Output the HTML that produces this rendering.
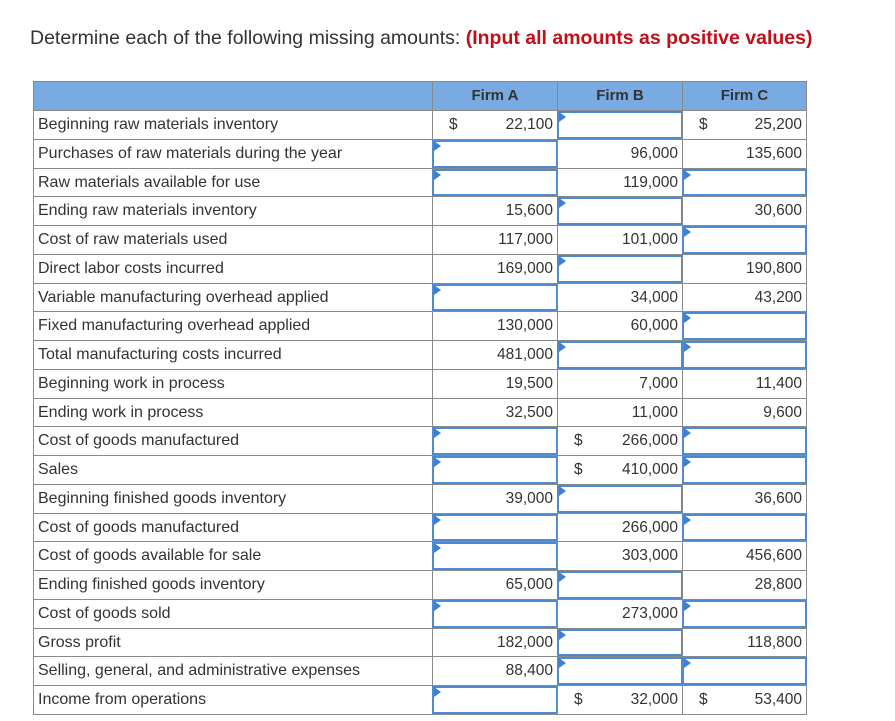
<!DOCTYPE html>
<html><head><meta charset="utf-8"><style>
body{margin:0;width:895px;height:721px;background:#fff;font-family:"Liberation Sans",Arial,sans-serif;color:#333;position:relative;overflow:hidden}
#title{position:absolute;left:30px;top:27px;font-size:19.5px;color:#333;white-space:nowrap}
#title b{color:#c0101a}
.c{position:absolute;box-sizing:border-box;border:1px solid #8a8a8a;font-size:15.5px;line-height:28px;white-space:nowrap}
.lab{padding-left:4px;font-size:16px}
.num{text-align:right;padding-right:4px}
.dol{position:absolute;left:16px;top:0}
.hd{background:#79abe2;font-weight:bold;text-align:center;font-size:15px;line-height:28px}
.inp{position:absolute;box-sizing:border-box;border:2px solid #4d8ad0;background:#fff}
.flag{position:absolute;left:0;top:0;width:0;height:0;border-top:5px solid transparent;border-bottom:5px solid transparent;border-left:7px solid #3f7fcf;top:-1px}
</style></head><body>
<div id="title">Determine each of the following missing amounts: <b>(Input all amounts as positive values)</b></div>
<div id="tbl"></div>
<script>
const labels=["Beginning raw materials inventory","Purchases of raw materials during the year","Raw materials available for use","Ending raw materials inventory","Cost of raw materials used","Direct labor costs incurred","Variable manufacturing overhead applied","Fixed manufacturing overhead applied","Total manufacturing costs incurred","Beginning work in process","Ending work in process","Cost of goods manufactured","Sales","Beginning finished goods inventory","Cost of goods manufactured","Cost of goods available for sale","Ending finished goods inventory","Cost of goods sold","Gross profit","Selling, general, and administrative expenses","Income from operations"];
// "i" = input box, "$x" = value with dollar sign
const firmA=["$22,100","i","i","15,600","117,000","169,000","i","130,000","481,000","19,500","32,500","i","i","39,000","i","i","65,000","i","182,000","88,400","i"];
const firmB=["i","96,000","119,000","i","101,000","i","34,000","60,000","i","7,000","11,000","$266,000","$410,000","i","266,000","303,000","i","273,000","i","i","$32,000"];
const firmC=["$25,200","135,600","i","30,600","i","190,800","43,200","i","i","11,400","9,600","i","i","36,600","i","456,600","28,800","i","118,800","i","$53,400"];
const headers=["Firm A","Firm B","Firm C"];
const colX=[33,432,557,682,806];
const T=document.getElementById('tbl');
const top0=110,rh=28.75;
function cell(x,y,w,h,cls){const d=document.createElement('div');d.className='c '+cls;d.style.left=x+'px';d.style.top=y+'px';d.style.width=(w+1)+'px';d.style.height=(h+1)+'px';T.appendChild(d);return d;}
let h=cell(colX[0],81,colX[1]-colX[0],29,'hd');


headers.forEach((t,j)=>{const d=cell(colX[j+1],81,colX[j+2]-colX[j+1],29,'hd');d.textContent=t;

});
const cols=[firmA,firmB,firmC];
labels.forEach((l,i)=>{
 const y=Math.round(top0+i*rh),y2=Math.round(top0+(i+1)*rh),hh=y2-y;
 const d=cell(colX[0],y,colX[1]-colX[0],hh,'lab');d.textContent=l;
 
 
 cols.forEach((arr,j)=>{
  const v=arr[i];const x=colX[j+1],w=colX[j+2]-colX[j+1];
  const c=cell(x,y,w,hh,'num');
  
  
  if(v==='i'){
   const b=document.createElement('div');b.className='inp';b.style.left=x+'px';b.style.top=(y+1)+'px';b.style.width=(w+1)+'px';b.style.height=(hh-1)+'px';
   
   
   const f=document.createElement('div');f.className='flag';b.appendChild(f);
   T.appendChild(b);
  }else if(v[0]==='$'){
   const s=document.createElement('span');s.className='dol';s.textContent='$';c.appendChild(s);
   c.appendChild(document.createTextNode(v.slice(1)));
  }else c.textContent=v;
 });
});
</script>
</body></html>
